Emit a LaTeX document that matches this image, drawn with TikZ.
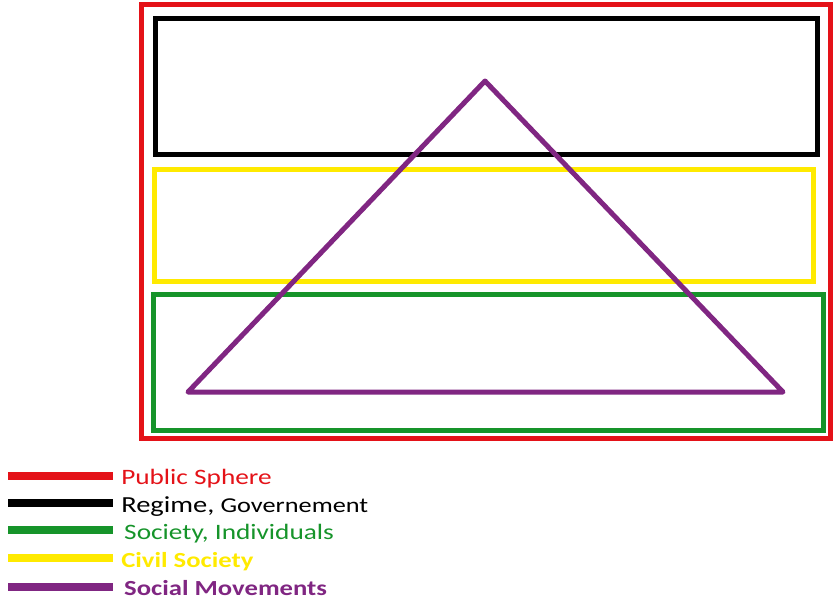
\documentclass[tikz,border=0pt]{standalone}
\usepackage{fontspec}
\setmainfont{Carlito}
\definecolor{psred}{RGB}{228,18,24}
\definecolor{psgreen}{RGB}{22,148,42}
\definecolor{psyellow}{RGB}{255,234,0}
\definecolor{pspurple}{RGB}{128,38,130}
\begin{document}
\begin{tikzpicture}[x=1pt,y=-1pt,
  frame/.style={line width=5pt},
  tri/.style={line width=5pt,pspurple,line join=round},
  leg/.style={line width=8pt},
  legtext/.style={anchor=base west,inner sep=0pt,font=\fontsize{22}{24}\selectfont,xscale=1.24}]
\useasboundingbox (0,0) rectangle (835,600);
\draw[frame,psred] (141.5,4.5) rectangle (830.5,438.5);
\draw[frame,black,line width=5.5pt] (155.5,18.5) rectangle (817.5,154.5);
\draw[frame,psyellow] (154,169.5) rectangle (813,281.5);
\draw[frame,psgreen] (153.5,294) rectangle (823,430);
\coordinate (apex) at (485,81);
\coordinate (bl) at (188,392);
\coordinate (br) at (783,392);
\draw[tri] (apex) -- (bl) -- (br) -- cycle;
% legend
\draw[leg,psred] (8,476) -- (113,476);
\draw[leg,black] (8,503) -- (113,503);
\draw[leg,psgreen] (8,530) -- (113,530);
\draw[leg,psyellow] (8,558) -- (113,558);
\draw[leg,pspurple] (8,587) -- (113,587);
\node[legtext,text=psred] (t1) at (121,484.5) {Public Sphere};
\node[legtext,text=black] (t2) at (121,512) {{\fontsize{23}{25}\selectfont Regime,} {\fontsize{21.2}{24}\selectfont Governement}};
\node[legtext,text=psgreen] (t3) at (124,539) {Society, Individuals};
\node[legtext,text=psyellow,font=\fontsize{21.5}{24}\selectfont\bfseries] (t4) at (121,567) {Civil Society};
\node[legtext,text=pspurple,font=\fontsize{21.5}{24}\selectfont\bfseries] (t5) at (124,595.5) {Social Movements};
\end{tikzpicture}
\end{document}
